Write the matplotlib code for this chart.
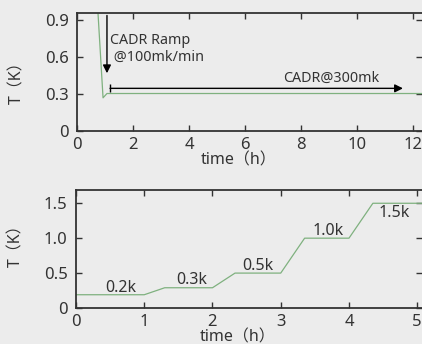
import matplotlib
matplotlib.use("Agg")
import matplotlib.pyplot as plt

plt.rcParams['font.family'] = ['Noto Sans', 'Noto Sans CJK SC', 'DejaVu Sans']

# upper panel: CADR ramp then hold at 300 mK
ramp_time = [0.70, 0.93, 1.07, 12.32]
ramp_temp = [1.15, 0.27, 0.305, 0.305]
upper_yticks = [0, 0.3, 0.6, 0.9]
upper_yticklabels = ['0', '0.3', '0.6', '0.9']
upper_xticks = [0, 2, 4, 6, 8, 10, 12]

# lower panel: temperature steps
step_time = [0, 1.0, 1.3, 2.0, 2.33, 3.0, 3.35, 4.0, 4.35, 5.07]
step_temp = [0.19, 0.19, 0.29, 0.29, 0.5, 0.5, 1.0, 1.0, 1.5, 1.5]
step_names = ['0.2k', '0.3k', '0.5k', '1.0k', '1.5k']
step_name_x = [0.66, 1.69, 2.67, 3.69, 4.67]
step_name_y = [0.29, 0.40, 0.60, 1.10, 1.36]
lower_yticks = [0, 0.5, 1.0, 1.5]
lower_yticklabels = ['0', '0.5', '1.0', '1.5']
lower_xticks = [0, 1, 2, 3, 4, 5]

bg = '#ececec'
green = '#7fb17f'
dark = '#333333'

fig = plt.figure(figsize=(4.22, 3.44), dpi=100, facecolor=bg)
ax1 = fig.add_axes([77 / 422, 213 / 344, 345 / 422, 118 / 344])
ax2 = fig.add_axes([76 / 422, 36 / 344, 346 / 422, 118 / 344])


def style(ax, xpad):
    ax.set_facecolor(bg)
    ax.spines['right'].set_visible(False)
    for s in ['left', 'bottom', 'top']:
        ax.spines[s].set_color(dark)
        ax.spines[s].set_linewidth(1.3)
    ax.tick_params(direction='in', length=4, width=1, colors=dark,
                   labelsize=12, top=True, right=True)
    ax.tick_params(axis='y', pad=6)
    ax.tick_params(axis='x', pad=xpad)


# ---- upper
style(ax1, 4.5)
ax1.plot(ramp_time, ramp_temp, color=green, lw=0.9)
ax1.set_xlim(0, 12.32)
ax1.set_ylim(0, 0.96)
ax1.set_xticks(upper_xticks)
ax1.set_yticks(upper_yticks)
ax1.set_yticklabels(upper_yticklabels)
ax1.set_xlabel('time（h）', fontsize=11.5, color=dark)
ax1.set_ylabel('T（K）', fontsize=11.5, color=dark)
ax1.xaxis.set_label_coords(0.467, -0.18)
ax1.yaxis.set_label_coords(-0.15, 0.44)

ax1.annotate('', xy=(1.07, 0.47), xytext=(1.07, 0.94),
             arrowprops=dict(arrowstyle='-|>', color='black', lw=1,
                             mutation_scale=12, shrinkA=0, shrinkB=0))
ax1.text(1.18, 0.67, 'CADR Ramp\n @100mk/min', fontsize=10.3, color=dark,
         va='center', ha='left', linespacing=1.15)
ax1.annotate('', xy=(11.64, 0.347), xytext=(1.18, 0.347),
             arrowprops=dict(arrowstyle='-|>', color='black', lw=1,
                             mutation_scale=12, shrinkA=0, shrinkB=0))
ax1.plot([1.18], [0.347], marker='|', ms=6, mew=1, color='black')
ax1.text(9.07, 0.37, 'CADR@300mk', fontsize=10.3, color=dark,
         ha='center', va='bottom')

# ---- lower
style(ax2, 4.5)
ax2.plot(step_time, step_temp, color=green, lw=0.9)
for name, x, y in zip(step_names, step_name_x, step_name_y):
    ax2.text(x, y, name, fontsize=11.5, color=dark, ha='center', va='center')
ax2.set_xlim(0, 5.07)
ax2.set_ylim(0, 1.69)
ax2.set_xticks(lower_xticks)
ax2.set_yticks(lower_yticks)
ax2.set_yticklabels(lower_yticklabels)
ax2.set_xlabel('time（h）', fontsize=11.5, color=dark)
ax2.set_ylabel('T（K）', fontsize=11.5, color=dark)
ax2.xaxis.set_label_coords(0.468, -0.178)
ax2.yaxis.set_label_coords(-0.15, 0.56)

fig.savefig('out.png', dpi=100, facecolor=bg)
